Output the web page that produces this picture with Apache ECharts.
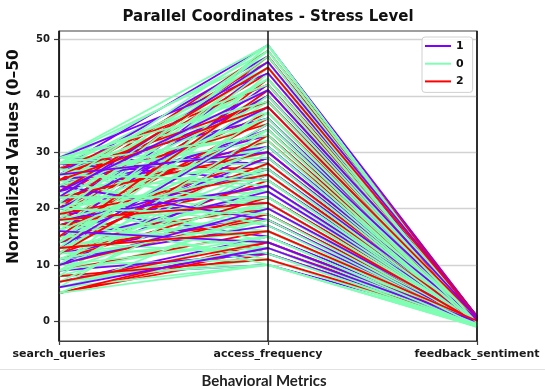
<!DOCTYPE html>
<html>
<head>
<meta charset="utf-8">
<script src="https://cdn.jsdelivr.net/npm/echarts@6/dist/echarts.min.js"></script>
<style>
  html, body { margin: 0; padding: 0; background: #ffffff; }
  #chart { width: 545px; height: 389px; }
</style>
</head>
<body>
<div id="chart"></div>
<script>
// Metric columns shown as parallel axes
const columns = ['search_queries', 'access_frequency', 'feedback_sentiment'];
// Stress level classes, in legend order
const classOrder = ['1', '0', '2'];
const classColors = { '1': '#8000ff', '0': '#80ffb4', '2': '#ff0000' };
const yTicks = [0, 10, 20, 30, 40, 50];

// Stress level 1
const sq1 = [27, 29, 8, 7, 21, 22, 20, 13, 10, 18, 24, 28, 16, 12, 26, 19, 9, 23, 15, 27, 11, 21, 14, 25, 17, 29, 20, 6, 24, 13, 18, 22, 10, 26, 16, 23];
const af1 = [49, 28, 10, 15, 34, 22, 15, 31, 26, 45, 39, 25, 42, 19, 47, 21, 12, 33, 29, 36, 17, 40, 23, 31, 27, 44, 38, 13, 18, 35, 24, 46, 20, 30, 14, 41];
const fs1 = [0.9, 0.4, 0.1, 0.3, 0.6, 0.2, 0.1, 0.5, 0.3, 0.8, 0.7, 0.4, 0.6, 0.2, 0.9, -0.2, 0.0, 0.5, 0.3, 0.6, 0.1, 0.7, 0.2, -0.1, 0.4, 0.8, 0.5, -0.3, 0.0, 0.6, 0.3, 0.9, 0.2, 0.4, -0.1, 0.7];

// Stress level 0
const sq0 = [29, 28, 27, 26, 29, 25, 24, 6, 7, 8, 9, 10, 12, 14, 16, 18, 20, 22, 24, 26, 28, 29, 27, 21, 19, 23, 15, 13, 11, 17, 25, 20, 22, 8, 6, 9, 14, 18, 27, 24, 12, 10, 16, 21, 29, 26, 19, 15, 23, 28, 7, 11, 13, 17, 25, 20, 5, 22, 27, 18,
  5, 6, 8, 10, 12, 14, 16, 18, 20, 22, 24, 26, 28, 29, 27, 25, 23, 21, 19, 17, 15, 13, 11, 9, 7, 10, 12, 14, 16, 19, 21, 24, 26, 28, 29, 28, 26, 22, 20, 18, 16, 14, 13, 11, 9];
const af0 = [49, 48, 46, 44, 47, 42, 40, 10, 11, 10, 12, 11, 13, 12, 14, 15, 16, 17, 19, 21, 23, 30, 33, 36, 38, 43, 32, 27, 24, 29, 35, 26, 31, 18, 15, 21, 22, 20, 28, 25, 16, 14, 18, 23, 37, 41, 34, 39, 45, 35, 13, 15, 19, 22, 27, 30, 10, 48, 24, 11,
  20, 28, 33, 38, 44, 47, 49, 46, 43, 39, 36, 32, 29, 26, 20, 17, 14, 12, 10, 13, 16, 21, 26, 30, 24, 34, 37, 41, 45, 48, 47, 49, 45, 42, 39, 33, 25, 22, 19, 27, 31, 35, 40, 18, 15];
const fs0 = [-0.5, -0.3, -0.6, -0.2, -0.4, -0.7, -0.5, -0.9, -1.0, -0.8, -0.9, -0.7, -0.8, -0.6, -0.9, -0.7, -0.8, -0.6, -0.5, -0.7, -0.4, -0.3, -0.5, -0.6, -0.4, -0.3, -0.7, -0.8, -0.5, -0.6, -0.4, -0.7, -0.5, -0.8, -0.9, -0.6, -0.7, -0.5, -0.6, -0.4, -0.8, -0.9, -0.7, -0.6, -0.3, -0.5, -0.4, -0.6, -0.2, -0.5, -1.0, -0.8, -0.7, -0.6, -0.5, -0.4, -0.9, -0.3, -0.6, -0.8,
  -0.7, -0.5, -0.6, -0.4, -0.3, -0.2, -0.4, -0.5, -0.6, -0.5, -0.7, -0.6, -0.5, -0.8, -0.7, -0.9, -0.8, -0.9, -1.0, -0.8, -0.7, -0.6, -0.7, -0.5, -0.6, -0.4, -0.5, -0.3, -0.4, -0.2, -0.3, -0.4, -0.5, -0.6, -0.4, -0.7, -0.6, -0.8, -0.7, -0.6, -0.5, -0.4, -0.3, -0.8, -0.9];

// Stress level 2
const sq2 = [28, 5, 5, 5, 23, 14, 20, 12, 18, 15, 22, 9, 17, 25, 11, 19, 13, 21, 16, 27, 8, 24, 14, 20, 10, 26, 17, 12, 22, 15, 19, 23, 7, 18, 25, 13];
const af2 = [27, 12, 13, 14, 48, 43, 37, 25, 34, 20, 44, 16, 29, 46, 22, 40, 18, 32, 36, 42, 11, 35, 28, 47, 19, 39, 24, 33, 30, 41, 26, 45, 14, 21, 38, 16];
const fs2 = [0.3, 0.0, 0.2, 0.1, 0.8, 0.7, 0.5, 0.2, 0.6, 0.1, 0.9, -0.2, 0.4, 0.8, 0.3, 0.6, 0.0, 0.5, 0.4, 0.7, -0.1, 0.5, 0.2, 0.9, 0.1, 0.6, 0.3, 0.5, 0.4, 0.7, 0.2, 0.8, 0.0, -0.2, 0.6, 0.1];

const groups = {
  '1': [sq1, af1, fs1],
  '0': [sq0, af0, fs0],
  '2': [sq2, af2, fs2]
};

// Records are drawn interleaved, like rows of a table
const pattern = ['1', '0', '2', '0', '0'];
const cursor = { '1': 0, '0': 0, '2': 0 };
const rows = [];
let added = true;
while (added) {
  added = false;
  for (const cls of pattern) {
    const g = groups[cls];
    if (cursor[cls] < g[0].length) {
      const i = cursor[cls]++;
      rows.push({ cls, values: [g[0][i], g[1][i], g[2][i]] });
      added = true;
    }
  }
}

const FONT = 'DejaVu Sans';
const frameColor = '#404040';

const series = rows.map(r => ({
  type: 'line',
  name: r.cls,
  data: r.values.map((v, k) => [k, v]),
  showSymbol: false,
  symbol: 'none',
  silent: true,
  color: classColors[r.cls],
  lineStyle: { color: classColors[r.cls], width: 1.8 },
  emphasis: { disabled: true },
  z: 2
}));

// Horizontal grid lines beneath the records
series.push({
  type: 'line',
  name: 'grid',
  data: [[0, null]],
  showSymbol: false,
  silent: true,
  z: 1,
  markLine: {
    z: 1,
    silent: true,
    symbol: ['none', 'none'],
    label: { show: false },
    lineStyle: { color: '#d2d2d2', width: 1.4, type: 'solid' },
    data: yTicks.map(v => ({ yAxis: v }))
  }
});

// Black vertical line for every metric axis, on top
series.push({
  type: 'line',
  name: 'axes',
  data: [[0, null]],
  showSymbol: false,
  silent: true,
  z: 6,
  markLine: {
    z: 6,
    silent: true,
    symbol: ['none', 'none'],
    label: { show: false },
    lineStyle: { color: '#111111', width: 1.5, type: 'solid' },
    data: columns.map((c, k) => ({ xAxis: k }))
  }
});

const chart = echarts.init(document.getElementById('chart'), null, { renderer: 'canvas' });
chart.setOption({
  animation: false,
  backgroundColor: '#ffffff',
  grid: {
    left: 59, right: 68, top: 31, bottom: 48,
    show: true, borderColor: frameColor, borderWidth: 1.2, backgroundColor: 'transparent'
  },
  xAxis: {
    type: 'value', min: 0, max: columns.length - 1, interval: 1,
    axisLine: { show: true, onZero: false, lineStyle: { color: frameColor, width: 1.2 } },
    axisTick: { show: true, length: 4, lineStyle: { color: frameColor, width: 1.2 } },
    splitLine: { show: false },
    axisLabel: {
      margin: 8,
      formatter: v => columns[v] || '',
      fontFamily: FONT, fontWeight: 'bold', fontSize: 11, color: '#1a1a1a',
      showMinLabel: true, showMaxLabel: true
    }
  },
  yAxis: {
    type: 'value', min: -3.5, max: 51.5,
    axisLine: { show: true, lineStyle: { color: frameColor, width: 1.2 } },
    axisTick: { show: true, length: 5, customValues: yTicks, lineStyle: { color: frameColor, width: 1.2 } },
    splitLine: { show: false },
    axisLabel: {
      margin: 9, customValues: yTicks,
      fontFamily: FONT, fontWeight: 'bold', fontSize: 10, color: '#1a1a1a'
    }
  },
  legend: {
    data: classOrder.map(c => ({ name: c, icon: 'rect' })),
    orient: 'vertical',
    left: 422, top: 37,
    itemWidth: 26, itemHeight: 2, itemGap: 5.7,
    padding: [3, 9, 5, 3],
    backgroundColor: 'rgba(255,255,255,0.85)',
    borderColor: '#d0d0d0', borderWidth: 1, borderRadius: 3,
    selectedMode: false,
    textStyle: { fontFamily: FONT, fontWeight: 'bold', fontSize: 11, lineHeight: 12, color: '#111' }
  },
  graphic: [
    {
      type: 'text', x: 268, y: 17,
      style: {
        text: 'Parallel Coordinates - Stress Level', font: 'bold 15px "DejaVu Sans"', fill: '#111',
        align: 'center', verticalAlign: 'middle'
      }
    },
    {
      type: 'text', x: 14, y: 156.5, rotation: Math.PI / 2,
      style: {
        text: 'Normalized Values (0–50', font: 'bold 15.5px "DejaVu Sans"', fill: '#111',
        align: 'center', verticalAlign: 'middle'
      }
    },
    {
      type: 'line', silent: true,
      shape: { x1: 0, y1: 369.5, x2: 545, y2: 369.5 },
      style: { stroke: '#e2e2e2', lineWidth: 1 }
    },
    {
      type: 'text', x: 264, y: 381,
      style: {
        text: 'Behavioral Metrics', font: 'bold 15px Lato', fill: '#222',
        align: 'center', verticalAlign: 'middle'
      }
    }
  ],
  series
});
</script>
</body>
</html>
